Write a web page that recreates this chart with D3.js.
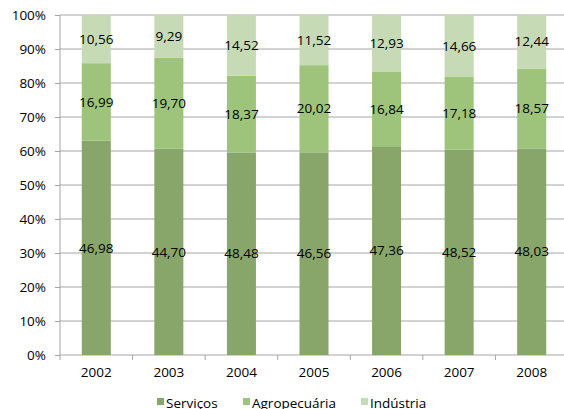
<!DOCTYPE html>
<html>
<head>
<meta charset="utf-8">
<script src="https://cdn.jsdelivr.net/npm/d3@7"></script>
<style>
  body { margin: 0; background: #fff; }
  svg text { font-family: "Open Sans", sans-serif; fill: #000; }
</style>
</head>
<body>
<script>
// chart data
var years = ["2002", "2003", "2004", "2005", "2006", "2007", "2008"]
var servicos = [46.98, 44.70, 48.48, 46.56, 47.36, 48.52, 48.03]
var agropecuaria = [16.99, 19.70, 18.37, 20.02, 16.84, 17.18, 18.57]
var industria = [10.56, 9.29, 14.52, 11.52, 12.93, 14.66, 12.44]
var seriesNames = ["Serviços", "Agropecuária", "Indústria"]
var yTicks = [0, 0.1, 0.2, 0.3, 0.4, 0.5, 0.6, 0.7, 0.8, 0.9, 1]

var colors = ["#88a66a", "#9dc47a", "#c6dab6"]

var svgWidth = 564
var svgHeight = 409
// plot area edges (note: "top" is taken by window.top)
var plotLeft = 60, plotRight = 568, plotTop = 15, plotBottom = 355

var svg = d3.select("body").append("svg")
    .attr("width", svgWidth)
    .attr("height", svgHeight)

var rows = years.map(function(y, i) {
    return { year: y, s0: servicos[i], s1: agropecuaria[i], s2: industria[i] }
})

var stack = d3.stack()
    .keys(["s0", "s1", "s2"])
    .offset(d3.stackOffsetExpand)
var layers = stack(rows)

var x = d3.scaleBand()
    .domain(years)
    .range([plotLeft, plotRight])
    .paddingInner(0.6)
    .paddingOuter(0.3)

var y = d3.scaleLinear()
    .domain([0, 1])
    .range([plotBottom, plotTop])

// gridlines
svg.append("g")
    .selectAll("line")
    .data(yTicks.slice(1))
    .enter().append("line")
    .attr("x1", plotLeft)
    .attr("x2", svgWidth)
    .attr("y1", function(d) { return y(d) })
    .attr("y2", function(d) { return y(d) })
    .attr("stroke", "#a6a6a6")
    .attr("stroke-width", 1)

// y axis
var yAxis = svg.append("g")
    .attr("transform", "translate(" + plotLeft + ",0)")
    .call(d3.axisLeft(y).tickValues(yTicks).tickSize(5).tickPadding(9)
        .tickFormat(function(d) { return Math.round(d * 100) + "%" }))
yAxis.select(".domain").attr("stroke", "#a6a6a6").attr("d", "M0," + plotTop + "V" + plotBottom)
yAxis.selectAll(".tick line").attr("stroke", "#a6a6a6")
yAxis.selectAll("text").style("font-size", "13.5px").attr("fill", "#000")

// x axis with ticks at category boundaries
var xg = svg.append("g")
    .attr("transform", "translate(0," + plotBottom + ")")
xg.append("line")
    .attr("x1", plotLeft).attr("x2", svgWidth)
    .attr("stroke", "#a6a6a6")
xg.selectAll(".bound")
    .data(years)
    .enter().append("line")
    .attr("class", "bound")
    .attr("x1", function(d) { return x(d) - x.step() * x.paddingInner() / 2 })
    .attr("x2", function(d) { return x(d) - x.step() * x.paddingInner() / 2 })
    .attr("y1", 0).attr("y2", 5)
    .attr("stroke", "#a6a6a6")
xg.selectAll(".lbl")
    .data(years)
    .enter().append("text")
    .attr("class", "lbl")
    .attr("x", function(d) { return x(d) + x.bandwidth() / 2 })
    .attr("y", 22)
    .attr("text-anchor", "middle")
    .style("font-size", "13.5px")
    .text(function(d) { return d })

// bars
var groups = svg.selectAll(".layer")
    .data(layers)
    .enter().append("g")
    .attr("fill", function(d, i) { return colors[i] })

groups.selectAll("rect")
    .data(function(d) { return d })
    .enter().append("rect")
    .attr("x", function(d) { return x(d.data.year) })
    .attr("width", x.bandwidth())
    .attr("y", function(d) { return y(d[1]) })
    .attr("height", function(d) { return y(d[0]) - y(d[1]) })

// value labels
var fmt = function(v) { return v.toFixed(2).replace(".", ",") }
groups.selectAll("text")
    .data(function(d) { return d.map(function(p) { p.key = d.key; return p }) })
    .enter().append("text")
    .attr("x", function(d) { return x(d.data.year) + x.bandwidth() / 2 })
    .attr("y", function(d) { return (y(d[0]) + y(d[1])) / 2 })
    .attr("dy", "0.35em")
    .attr("text-anchor", "middle")
    .style("font-size", "13.5px")
    .text(function(d) { return fmt(d.data[d.key]) })

// legend
var legendX = [157, 243, 361]
var legend = svg.append("g")
seriesNames.forEach(function(name, i) {
    legend.append("rect")
        .attr("x", legendX[i])
        .attr("y", 398)
        .attr("width", 7)
        .attr("height", 7)
        .attr("fill", colors[i])
    legend.append("text")
        .attr("x", legendX[i] + 9)
        .attr("y", 408)
        .style("font-size", "13.5px")
        .text(name)
})
</script>
</body>
</html>
